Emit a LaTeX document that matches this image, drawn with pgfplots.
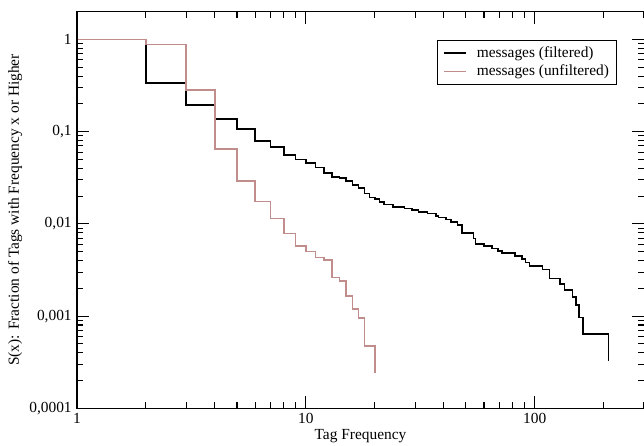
\documentclass[border=0pt]{standalone}
\usepackage{fontspec}
\setmainfont{Liberation Serif}
\usepackage{pgfplots}
\pgfplotsset{compat=1.18}
\definecolor{pinkline}{RGB}{192,140,140}
\begin{document}
\fontsize{15.4}{18.5}\selectfont
\begin{tikzpicture}
\useasboundingbox (-77pt,-37.7pt) rectangle (567pt,408.3pt);
\begin{axis}[
  at={(0pt,0pt)}, anchor=south west,
  scale only axis, width=567pt, height=396.6pt,
  xmode=log, ymode=log,
  xmin=1, xmax=300, ymin=1e-4, ymax=2,
  xtick={1,10,100}, xticklabels={1,10,100},
  ytick={1e-4,1e-3,1e-2,1e-1,1},
  yticklabels={{0,0001},{0,001},{0,01},{0,1},{1}},
  minor xtick={2,3,4,5,6,7,8,9,20,30,40,50,60,70,80,90,200,300},
  minor ytick={2e-4,3e-4,4e-4,5e-4,6e-4,7e-4,8e-4,9e-4,
               2e-3,3e-3,4e-3,5e-3,6e-3,7e-3,8e-3,9e-3,
               2e-2,3e-2,4e-2,5e-2,6e-2,7e-2,8e-2,9e-2,
               2e-1,3e-1,4e-1,5e-1,6e-1,7e-1,8e-1,9e-1,2},
  tick align=inside,
  major tick length=12pt, minor tick length=6pt,
  every tick/.style={black, line width=1.1pt},
  axis line style={draw=none},
  tick label style={font=\fontsize{15.4}{18.5}\selectfont},
  xlabel={Tag Frequency},
  ylabel={S(x): Fraction of Tags with Frequency x or Higher},
  label style={font=\fontsize{15.4}{18.5}\selectfont},
  xlabel style={at={(axis description cs:0.5,-0.0799)}, anchor=base, inner sep=0pt},
  ylabel style={at={(axis description cs:-0.1023,0.5)}, anchor=base, inner sep=0pt},
  legend style={at={(0.9524,0.9287)}, anchor=north east, draw=black, line width=1pt,
    font=\fontsize{15.4}{18.5}\selectfont, inner xsep=5.5pt, inner ysep=4pt,
    row sep=1.5pt},
  legend cell align=left,
  legend image code/.code={\draw[#1] (0pt,0pt) -- (22pt,0pt); \path (30pt,0pt);},
]
\addplot[const plot, black, line width=1.6pt] coordinates {
(1,1) (2,0.338) (3,0.194) (4,0.1367) (5,0.1064) (6,0.0795) (7,0.068)
(8,0.0556) (9,0.0499) (10,0.0458) (11,0.0407) (12,0.0357) (13,0.0323)
(14,0.0313) (15,0.0290) (16,0.0263) (17,0.0244) (18,0.0214) (19,0.0193)
(20,0.0185) (21,0.0173) (22,0.0162) (24,0.0153) (27,0.0147) (29,0.0141)
(31,0.0135) (34,0.0130) (37,0.0122) (38,0.0117) (41,0.0112) (43,0.0105)
(46,0.0097) (48,0.0080) (54,0.00695) (55,0.00603) (60,0.00577) (65,0.00541)
(69,0.00509) (72,0.00481) (82,0.00450) (88,0.00417) (91,0.00381) (95,0.00350)
(108,0.00320) (116,0.00256) (129,0.00223) (135,0.00193) (146,0.00161)
(151,0.00131) (156,0.00097) (162,0.000643) (210,0.000324)
};
\addlegendentry{messages (filtered)}
\addplot[const plot, pinkline, line width=1.6pt] coordinates {
(1,1) (2,0.88) (3,0.282) (4,0.0645) (5,0.0292) (6,0.0174) (7,0.0114)
(8,0.00787) (9,0.00577) (10,0.00502) (11,0.00430) (12,0.00404) (13,0.00262)
(14,0.00239) (15,0.00166) (16,0.00120) (17,0.00095) (18,0.000475)
(20,0.000242)
};
\addlegendentry{messages (unfiltered)}
\end{axis}
\draw[line width=1.4pt, line cap=rect] (current axis.north east) -- (current axis.north west)
  -- (current axis.south west) -- (current axis.south east);
\end{tikzpicture}
\end{document}
